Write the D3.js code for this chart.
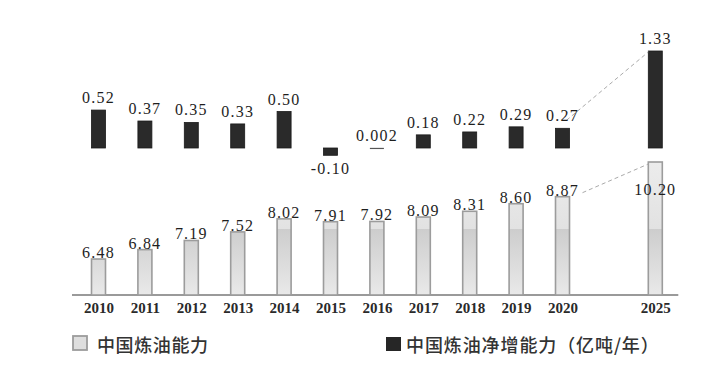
<!DOCTYPE html>
<html><head><meta charset="utf-8">
<script src="https://cdn.jsdelivr.net/npm/d3@7"></script>
<style>
html,body{margin:0;padding:0;background:#fff;}
svg{display:block;}
</style></head>
<body>
<svg id="chart" width="717" height="371"></svg>
<script>
const years = ["2010","2011","2012","2013","2014","2015","2016","2017","2018","2019","2020","2025"];
const capacity = [6.48, 6.84, 7.19, 7.52, 8.02, 7.91, 7.92, 8.09, 8.31, 8.60, 8.87, 10.20];
const netIncrease = [0.52, 0.37, 0.35, 0.33, 0.50, -0.10, 0.002, 0.18, 0.22, 0.29, 0.27, 1.33];
const capacityLabels = ["6.48","6.84","7.19","7.52","8.02","7.91","7.92","8.09","8.31","8.60","8.87","10.20"];
const netLabels = ["0.52","0.37","0.35","0.33","0.50","-0.10","0.002","0.18","0.22","0.29","0.27","1.33"];
const legendLabels = ["中国炼油能力","中国炼油净增能力（亿吨/年）"];

const svg = d3.select("#chart");
const serif = "'Liberation Serif','Times New Roman',serif";
const sans = "'Noto Sans CJK SC','Noto Sans',sans-serif";

// x: point scale with a blank slot before the forecast year
const domain = years.slice(0, -1).concat(["__gap__", years[years.length - 1]]);
const x = d3.scalePoint().domain(domain).range([98.5, 655.3]);
const barW = 14;

// two independent value scales (broken axis layout)
const yCap = d3.scaleLinear().domain([5.1, 10.2]).range([295, 162]);
const yNet = d3.scaleLinear().domain([0, 1.33]).range([148, 51]);

// gradient for the light bars
const defs = svg.append("defs");
const g = defs.append("linearGradient").attr("id","lg")
  .attr("gradientUnits","userSpaceOnUse").attr("x1",0).attr("x2",0).attr("y1",162).attr("y2",295);
[[0,"#ececec"],[0.5,"#e2e2e2"],[0.502,"#cdcdcd"],[1,"#e9e9e9"]].forEach(([o,c])=>
  g.append("stop").attr("offset",o).attr("stop-color",c));

// axis line
svg.append("line")
  .attr("x1", x(years[0]) - 26.5).attr("x2", x(years[years.length-1]) + 23)
  .attr("y1", yCap(5.1)).attr("y2", yCap(5.1))
  .attr("stroke","#9a9a9a").attr("stroke-width",2);

// x axis labels
const axis = d3.axisBottom(x).tickValues(years).tickSize(0).tickPadding(6);
const ax = svg.append("g").attr("transform",`translate(0,${yCap(5.1)+1})`).call(axis);
ax.select(".domain").remove();
ax.selectAll("text").attr("font-family",serif).attr("font-size",15)
  .attr("font-weight","bold").attr("fill","#2a2a2a");

const data = years.map((y,i)=>({year:y, cap:capacity[i], net:netIncrease[i], capL:capacityLabels[i], netL:netLabels[i]}));
const last = years[years.length-1];

// light bars
svg.append("g").selectAll("rect").data(data).join("rect")
  .attr("x", d => x(d.year) - barW/2)
  .attr("y", d => yCap(d.cap))
  .attr("width", barW)
  .attr("height", d => yCap(5.1) - yCap(d.cap))
  .attr("fill","url(#lg)").attr("stroke","#9c9c9c").attr("stroke-width",1.6);

// dark bars
svg.append("g").selectAll("rect").data(data).join("rect")
  .attr("x", d => x(d.year) - barW/2)
  .attr("y", d => Math.min(yNet(d.net), yNet(0)))
  .attr("width", barW)
  .attr("height", d => Math.max(Math.abs(yNet(d.net) - yNet(0)), 1.2))
  .attr("fill", d => Math.abs(d.net) < 0.01 ? "#555" : "#2a2a2a")
  .attr("stroke", d => Math.abs(d.net) < 0.01 ? "none" : "#1a1a1a").attr("stroke-width",0.8);

// dashed connectors
const i20 = years.length - 2;
const dl = svg.append("g").attr("stroke","#aaa").attr("stroke-width",1).attr("stroke-dasharray","4,3").attr("fill","none");
dl.append("line")
  .attr("x1", x(years[i20]) + 4).attr("y1", yNet(netIncrease[i20]) - 8)
  .attr("x2", x(last) - barW/2).attr("y2", yNet(netIncrease[years.length-1]) + 1);
dl.append("line")
  .attr("x1", x(years[i20]) + 20).attr("y1", yCap(capacity[i20]) - 4)
  .attr("x2", x(last) - barW/2).attr("y2", yCap(capacity[years.length-1]) + 2);

// value labels
svg.append("g").selectAll("text").data(data).join("text")
  .attr("x", d => x(d.year))
  .attr("y", d => d.year === last ? yCap(d.cap) + 33 : yCap(d.cap) - 1)
  .attr("text-anchor","middle").attr("font-family",serif).attr("font-size",16)
  .attr("letter-spacing",1.2).attr("fill","#1e1e1e")
  .text(d => d.capL);

svg.append("g").selectAll("text").data(data).join("text")
  .attr("x", d => x(d.year))
  .attr("y", d => d.net < 0 ? yNet(d.net) + 19 : yNet(d.net) - 7)
  .attr("text-anchor","middle").attr("font-family",serif).attr("font-size",16)
  .attr("letter-spacing",1.2).attr("fill","#1e1e1e")
  .text(d => d.netL);

// legend
const lg1 = svg.append("g").attr("transform","translate(73,336)");
lg1.append("rect").attr("width",14).attr("height",14).attr("fill","#dedede").attr("stroke","#9c9c9c").attr("stroke-width",1.8);
lg1.append("text").attr("x",24).attr("y",8).attr("dominant-baseline","central").attr("letter-spacing",0.6)
  .attr("font-family",sans).attr("font-size",18).attr("font-weight",500).attr("fill","#333").text(legendLabels[0]);
const lg2 = svg.append("g").attr("transform","translate(386,337)");
lg2.append("rect").attr("width",15).attr("height",14).attr("fill","#262626");
lg2.append("text").attr("x",20).attr("y",7).attr("dominant-baseline","central").attr("letter-spacing",0.9)
  .attr("font-family",sans).attr("font-size",18).attr("font-weight",500).attr("fill","#333").text(legendLabels[1]);
</script>
</body></html>
